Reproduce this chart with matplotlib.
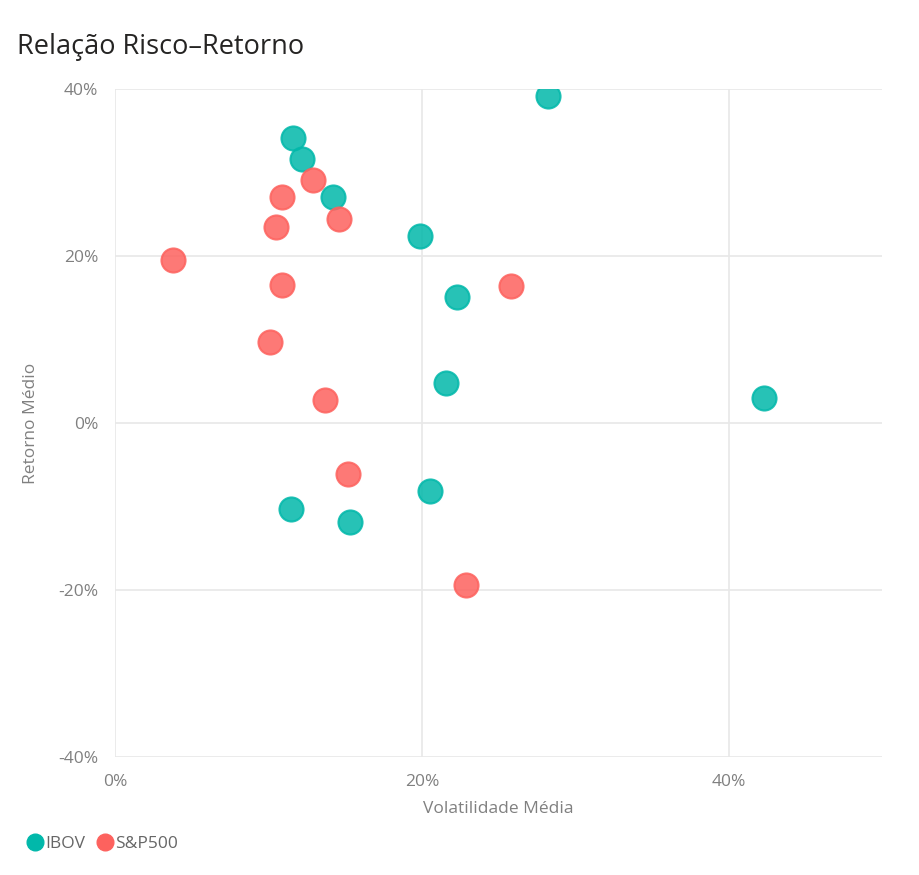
import matplotlib.pyplot as plt
from matplotlib.ticker import FuncFormatter
from matplotlib.lines import Line2D

# volatilidade média (%) e retorno médio (%) por série
ibov_vol = [28.2, 11.6, 12.2, 14.2, 19.9, 22.3, 21.6, 42.3, 20.5, 11.5, 15.3]
ibov_ret = [39.2, 34.1, 31.7, 27.1, 22.4, 15.1, 4.8, 3.0, -8.1, -10.3, -11.9]
sp_vol = [3.8, 10.9, 10.5, 12.9, 14.6, 10.9, 10.1, 25.8, 13.7, 15.2, 22.9]
sp_ret = [19.5, 27.1, 23.5, 29.1, 24.4, 16.5, 9.7, 16.4, 2.8, -6.1, -19.4]

series_names = ['IBOV', 'S&P500']
colors = ['#01B8AA', '#FD625E']
x_ticks = [0, 20, 40]
y_ticks = [-40, -20, 0, 20, 40]

plt.rcParams['font.family'] = ['Open Sans', 'DejaVu Sans']

fig = plt.figure(figsize=(9.2, 8.75), dpi=100)
ax = fig.add_axes([0.125, 0.135, 0.834, 0.763])

for vol, ret, c in zip([ibov_vol, sp_vol], [ibov_ret, sp_ret], colors):
    ax.scatter(vol, ret, s=300, color=c, alpha=0.85, edgecolors=c,
               linewidths=1.5, zorder=3)

ax.set_xlim(0, 50)
ax.set_ylim(-40, 40)
ax.set_xticks(x_ticks)
ax.set_yticks(y_ticks)
pct = FuncFormatter(lambda v, p: f'{v:.0f}%')
ax.xaxis.set_major_formatter(pct)
ax.yaxis.set_major_formatter(pct)
ax.grid(True, color='#e8e8e8', linewidth=1.2, zorder=0)
for s in ax.spines.values():
    s.set_visible(False)
ax.tick_params(length=0, colors='#808080', labelsize=12.5, pad=12)

ax.set_xlabel('Volatilidade Média', color='#808080', fontsize=12.5, labelpad=8)
ax.set_ylabel('Retorno Médio', color='#808080', fontsize=12.5, labelpad=14)

fig.text(0.018, 0.946, 'Relação Risco–Retorno', fontsize=19.5, color='#252423',
         va='center', ha='left')

handles = [Line2D([], [], marker='o', linestyle='', markersize=12,
                  markerfacecolor=c, markeredgecolor=c) for c in colors]
fig.legend(handles, series_names, loc='center left', bbox_to_anchor=(0.008, 0.035),
           frameon=False, ncol=2, handletextpad=-0.1, columnspacing=0.4,
           fontsize=12.5, labelcolor='#666666', handlelength=1.4)

fig.savefig('out.png', dpi=100, facecolor='white')
